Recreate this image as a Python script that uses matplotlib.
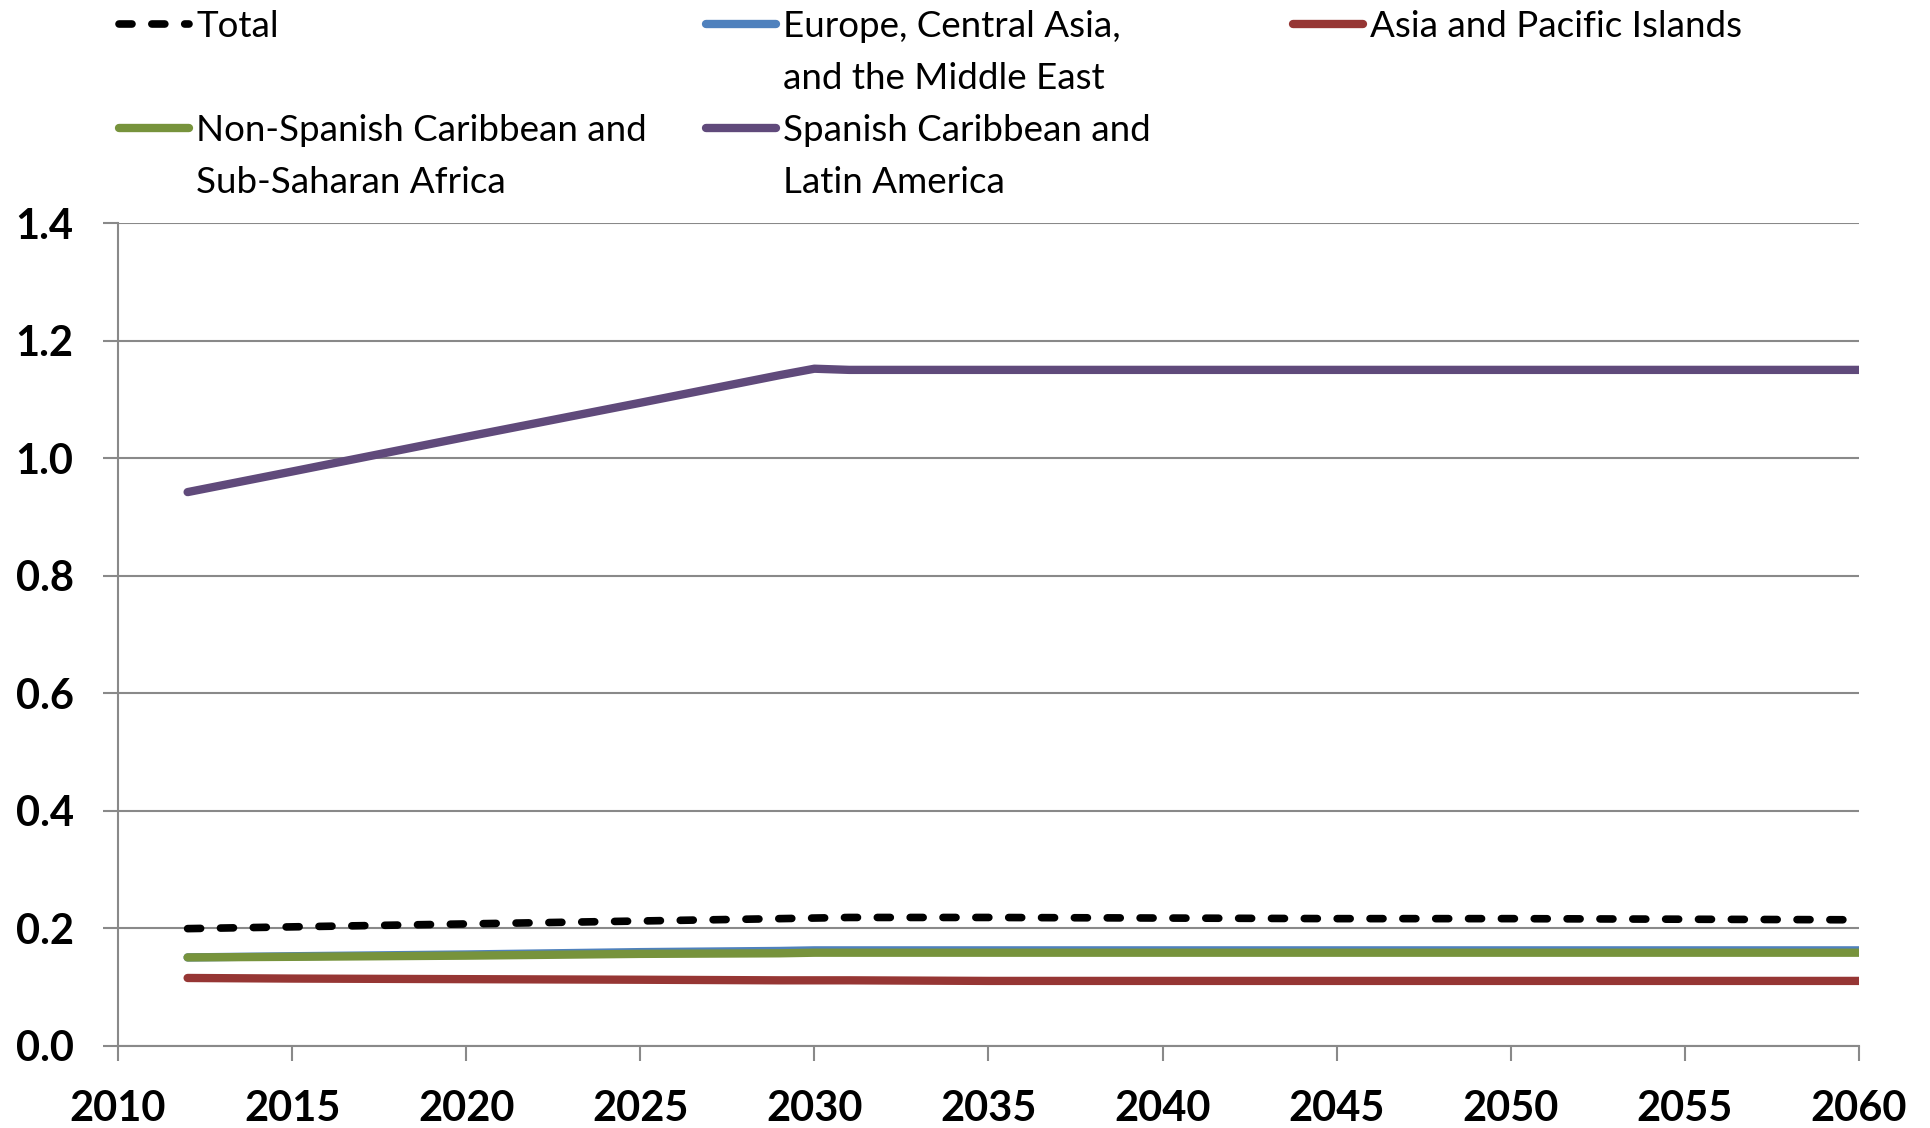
import matplotlib
matplotlib.use("Agg")
import matplotlib.pyplot as plt
from matplotlib.lines import Line2D

# 연도별 값
years = [2012, 2015, 2020, 2025, 2029, 2030, 2031, 2035, 2040, 2045, 2050, 2055, 2060]
total = [0.199, 0.202, 0.207, 0.212, 0.216, 0.217, 0.218, 0.218, 0.217, 0.216, 0.216, 0.215, 0.214]
europe = [0.150, 0.152, 0.155, 0.159, 0.161, 0.162, 0.162, 0.162, 0.162, 0.162, 0.162, 0.162, 0.162]
asia = [0.115, 0.114, 0.113, 0.112, 0.111, 0.111, 0.111, 0.110, 0.110, 0.110, 0.110, 0.110, 0.110]
non_spanish = [0.150, 0.151, 0.153, 0.156, 0.157, 0.158, 0.158, 0.158, 0.158, 0.158, 0.158, 0.158, 0.158]
spanish = [0.942, 0.977, 1.036, 1.094, 1.141, 1.152, 1.150, 1.150, 1.150, 1.150, 1.150, 1.150, 1.150]

x_ticks = list(range(2010, 2061, 5))
y_ticks = [0.0, 0.2, 0.4, 0.6, 0.8, 1.0, 1.2, 1.4]

plt.rcParams['font.family'] = ['Lato', 'DejaVu Sans']
grid_c = '#898989'

fig = plt.figure(figsize=(19.31, 11.28), dpi=100)
ax = fig.add_axes([0.0611, 0.0731, 0.9016, 0.7292])

ax.plot(years, europe, color='#4F81BD', lw=6, solid_capstyle='round')
ax.plot(years, asia, color='#963634', lw=6, solid_capstyle='round')
ax.plot(years, non_spanish, color='#77933C', lw=6, solid_capstyle='round')
ax.plot(years, spanish, color='#604A7B', lw=6, solid_capstyle='round')
tot, = ax.plot(years, total, color='black', lw=5.5, dash_capstyle='round')
tot.set_dashes((1.7, 2.6))

ax.set_xlim(2010, 2060)
ax.set_ylim(0, 1.4)
ax.set_xticks(x_ticks)
ax.set_yticks(y_ticks)
ax.set_yticklabels([f"{v:.1f}" for v in y_ticks])
ax.grid(axis='y', color=grid_c, lw=1.5)
ax.set_axisbelow(True)
for s in ['top', 'right']:
    ax.spines[s].set_visible(False)
for s in ['left', 'bottom']:
    ax.spines[s].set_color(grid_c)
    ax.spines[s].set_linewidth(1.5)
ax.tick_params(axis='x', length=11, width=1.5, color=grid_c, pad=21, labelsize=30)
ax.tick_params(axis='y', length=11, width=1.5, color=grid_c, pad=21, labelsize=30)
for lab in ax.get_xticklabels() + ax.get_yticklabels():
    lab.set_fontweight('bold')

# 범례: 엑셀처럼 3열, 줄 간격 일정하게
def h(color, dashed=False):
    ln = Line2D([], [], color=color, lw=6 if not dashed else 5.5,
                solid_capstyle='round', dash_capstyle='round')
    if dashed:
        ln.set_dashes((1.7, 2.6))
    return ln

blank = Line2D([], [], color='none')
columns = [
    ([h('black', True), blank, h('#77933C'), blank],
     ['Total', ' ', 'Non-Spanish Caribbean and', 'Sub-Saharan Africa']),
    ([h('#4F81BD'), blank, h('#604A7B'), blank],
     ['Europe, Central Asia,', 'and the Middle East', 'Spanish Caribbean and', 'Latin America']),
    ([h('#963634'), blank, blank, blank],
     ['Asia and Pacific Islands', ' ', ' ', ' ']),
]
col_x = [119, 706, 1293]
for (handles, labels), x in zip(columns, col_x):
    fig.legend(handles, labels, loc='upper left', bbox_to_anchor=(x / 1931, 1 - 10 / 1128),
               frameon=False, fontsize=26.5, handlelength=1.9, handletextpad=0.2,
               labelspacing=0.52, borderpad=0, borderaxespad=0)

fig.savefig('out.png', dpi=100)
